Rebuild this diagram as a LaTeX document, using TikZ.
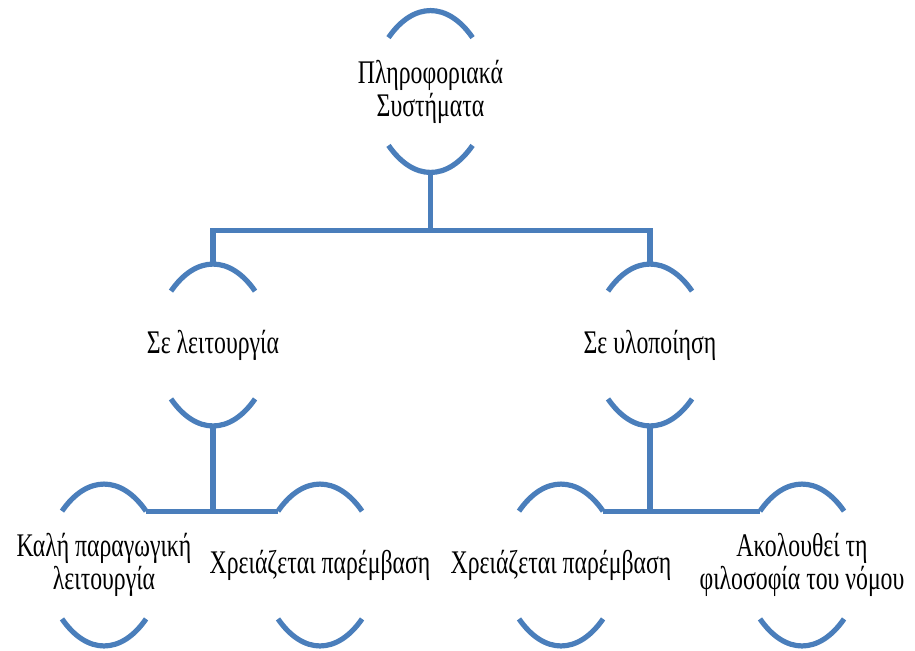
\documentclass[tikz,border=0pt]{standalone}
\usepackage{fontspec}
\setmainfont{Liberation Serif}[FakeStretch=0.72]
\usetikzlibrary{positioning}
\definecolor{brakblue}{RGB}{74,126,187}
\tikzset{
    %Define style for the bracket boxes
    brak/.style={
           rectangle,
           inner sep=0pt,
           minimum width=42pt,
           minimum height=80.5pt,
           align=center,
           font=\fontsize{16.5}{16.5}\selectfont},
    % Define line style
    lin/.style={
           draw=brakblue,
           line width=2.6pt}
}

\begin{document}
\begin{tikzpicture}[x=0.5pt,y=-0.5pt]
\useasboundingbox (0,0) rectangle (915,650);
\node [brak] (top) at (430.5,91.5) {Πληροφοριακά\\Συστήματα};
\node [brak] (op) at (213,345) {Σε λειτουργία};
\node [brak] (impl) at (650,345) {Σε υλοποίηση};
\node [brak] (good) at (104,565) {Καλή παραγωγική\\λειτουργία};
\node [brak] (needA) at (320,565) {Χρειάζεται παρέμβαση};
\node [brak] (needB) at (561,565) {Χρειάζεται παρέμβαση};
\node [brak] (law) at (802,565) {Ακολουθεί τη\\φιλοσοφία του νόμου};
% arcs above and below every box
\foreach \n in {top,op,impl,good,needA,needB,law} {
  \draw [lin] ([shift={(-21pt,-13.5pt)}]\n.north) arc [start angle=126.9, end angle=53.1, x radius=35pt, y radius=67.5pt];
  \draw [lin] ([shift={(-21pt,13.5pt)}]\n.south) arc [start angle=233.1, end angle=306.9, x radius=35pt, y radius=67.5pt];
}
\draw [lin] (top.south) -- ++(0,58) coordinate (bus) -| (op.north);
\draw [lin] (bus) -| (impl.north);
\draw [lin] ([shift={(21pt,-13.5pt)}]good.north) coordinate (gr) -- ([shift={(-21pt,-13.5pt)}]needA.north);
\draw [lin] (op.south) -- (op.south |- gr);
\draw [lin] ([shift={(21pt,-13.5pt)}]needB.north) coordinate (br) -- ([shift={(-21pt,-13.5pt)}]law.north);
\draw [lin] (impl.south) -- (impl.south |- br);
\end{tikzpicture}
\end{document}
